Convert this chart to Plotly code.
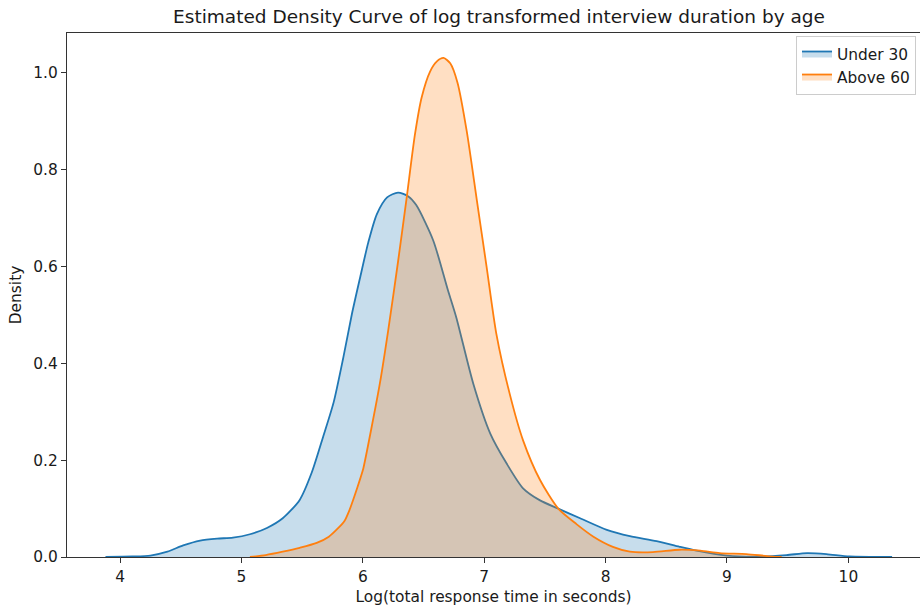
import plotly.graph_objects as go

# ---- data ----
under30_x = [3.88, 4.10, 4.25, 4.39, 4.52, 4.66, 4.80, 4.93, 5.07, 5.21, 5.34, 5.48, 5.58,
             5.675, 5.76, 5.84, 5.91, 5.98, 6.045, 6.115, 6.20, 6.29, 6.375, 6.44, 6.58, 6.70,
             6.77, 6.91, 7.05, 7.185, 7.32, 7.46, 7.61, 7.79, 8.01, 8.20, 8.42, 8.61, 8.75,
             9.00, 9.27, 9.49, 9.66, 9.82, 10.01, 10.36]
under30_y = [0.0, 0.001, 0.003, 0.011, 0.024, 0.034, 0.038, 0.040, 0.047, 0.060, 0.080, 0.118, 0.175,
             0.250, 0.320, 0.413, 0.502, 0.580, 0.650, 0.708, 0.743, 0.753, 0.745, 0.727, 0.654, 0.552,
             0.495, 0.358, 0.255, 0.193, 0.142, 0.117, 0.100, 0.080, 0.056, 0.043, 0.033, 0.021, 0.013,
             0.003, 0.001, 0.004, 0.008, 0.006, 0.001, 0.0]

above60_x = [5.07, 5.20, 5.34, 5.48, 5.62, 5.72, 5.79, 5.85, 5.89, 5.93, 5.98, 6.004, 6.07,
             6.14, 6.21, 6.29, 6.36, 6.43, 6.485, 6.554, 6.61, 6.665, 6.72, 6.78, 6.856, 6.94,
             7.02, 7.10, 7.21, 7.32, 7.46, 7.61, 7.76, 7.90, 8.06, 8.20, 8.39, 8.61, 8.78,
             8.94, 9.16, 9.33, 9.45]
above60_y = [0.0, 0.004, 0.011, 0.019, 0.029, 0.042, 0.058, 0.075, 0.097, 0.125, 0.163, 0.183, 0.265,
             0.358, 0.47, 0.61, 0.74, 0.874, 0.950, 1.003, 1.024, 1.031, 1.020, 0.980, 0.880, 0.736,
             0.599, 0.461, 0.337, 0.241, 0.159, 0.100, 0.068, 0.042, 0.021, 0.011, 0.010, 0.015, 0.013,
             0.008, 0.006, 0.002, 0.0]

series_names = ["Under 30", "Above 60"]
x_ticks = [4, 5, 6, 7, 8, 9, 10]
y_ticks = [0.0, 0.2, 0.4, 0.6, 0.8, 1.0]

title_text = "Estimated Density Curve of log transformed interview duration by age"
x_label = "Log(total response time in seconds)"
y_label = "Density"

FONT = "DejaVu Sans"
TXT = "#1a1a1a"
AX = "#333333"

fig = go.Figure()
fig.add_trace(go.Scatter(
    x=under30_x, y=under30_y, name=series_names[0], mode="lines",
    line=dict(color="#1f77b4", width=1.8, shape="spline", smoothing=0.7),
    fill="tozeroy", fillcolor="rgba(31,119,180,0.25)",
))
fig.add_trace(go.Scatter(
    x=above60_x, y=above60_y, name=series_names[1], mode="lines",
    line=dict(color="#ff7f0e", width=1.8, shape="spline", smoothing=0.7),
    fill="tozeroy", fillcolor="rgba(255,127,14,0.25)",
))

fig.update_layout(
    width=920, height=607,
    margin=dict(l=67, r=0, t=33, b=50),
    paper_bgcolor="white", plot_bgcolor="white",
    font=dict(family=FONT, size=15.4, color=TXT),
    title=dict(text=title_text, x=499 / 920, xref="container", xanchor="center",
               y=1 - 17 / 607, yref="container", yanchor="middle",
               font=dict(size=18.5, family=FONT, color=TXT)),
    showlegend=True,
    legend=dict(x=(796 - 67) / 853, y=(557 - 36) / 524, xanchor="left", yanchor="top",
                bgcolor="rgba(255,255,255,0.8)", bordercolor="#cccccc", borderwidth=1,
                font=dict(size=15.4, family=FONT, color=TXT),
                itemwidth=30, tracegroupgap=2),
)
fig.update_xaxes(
    range=[3.563, 10.59], tickvals=x_ticks, ticktext=[str(v) for v in x_ticks],
    showgrid=False, zeroline=False, showline=True, mirror=True,
    linecolor=AX, linewidth=1.2, ticks="outside", ticklen=5, tickwidth=1.2, tickcolor=AX,
    title=dict(text=x_label, standoff=6, font=dict(size=15.4, family=FONT, color=TXT)),
    automargin=False,
)
fig.update_yaxes(
    range=[0, 1.0826], tickvals=y_ticks, ticktext=[f"{v:.1f}" for v in y_ticks],
    showgrid=False, zeroline=False, showline=True, mirror=False,
    linecolor=AX, linewidth=1.2, ticks="outside", ticklen=5, tickwidth=1.2, tickcolor=AX,
    title=dict(text=y_label, standoff=7, font=dict(size=15.4, family=FONT, color=TXT)),
    automargin=False,
)

fig.write_html("out.html")
